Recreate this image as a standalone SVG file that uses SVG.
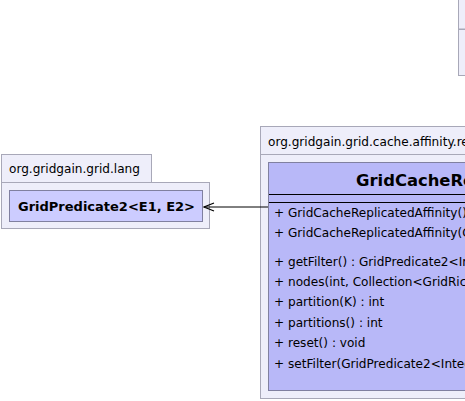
<svg xmlns="http://www.w3.org/2000/svg" width="465" height="401" viewBox="0 0 465 401">
<defs>
<style>
.pkg{fill:#eeeefa;stroke:#a8a8b8;stroke-width:1}
.cls{stroke:#8080a0;stroke-width:1}
.t{font-family:"DejaVu Sans",sans-serif;font-size:12.1px;fill:#000}
.b{font-family:"DejaVu Sans",sans-serif;font-weight:bold;fill:#000}
</style>
<marker id="open" markerWidth="12" markerHeight="10" refX="11" refY="5" orient="auto" markerUnits="userSpaceOnUse">
<path d="M1,1 L11,5 L1,9" fill="none" stroke="#000" stroke-width="1.2"/>
</marker>
</defs>
<rect width="465" height="401" fill="#fff"/>
<g id="topright">
<rect class="pkg" x="458.5" y="-1" width="10" height="30"/>
<rect class="pkg" x="458.5" y="29.5" width="10" height="46"/>
</g>
<g id="pkg-lang">
<rect class="pkg" x="1.5" y="154.5" width="150" height="28"/>
<rect class="pkg" x="1.5" y="182.5" width="208" height="46"/>
<text class="t" x="9" y="173" font-size="12.5">org.gridgain.grid.lang</text>
</g>
<g id="GridPredicate2">
<rect class="cls" x="9.5" y="190.5" width="193" height="31" fill="#ccccff"/>
<text class="b" x="18" y="211" font-size="13">GridPredicate2&lt;E1, E2&gt;</text>
</g>
<g id="pkg-affinity">
<rect class="pkg" x="260.5" y="126.5" width="220" height="28"/>
<rect class="pkg" x="260.5" y="154.5" width="220" height="244"/>
<text class="t" x="268" y="146" font-size="12.3">org.gridgain.grid.cache.affinity.replicated</text>
</g>
<g id="GridCacheReplicatedAffinity">
<rect class="cls" x="268.5" y="162.5" width="220" height="228" fill="#b8b8f8"/>
<text class="b" x="356" y="186" font-size="16.4">GridCacheReplicatedAffinity</text>
<line x1="269" y1="194.5" x2="470" y2="194.5" stroke="#000"/>
<line x1="269" y1="202.5" x2="470" y2="202.5" stroke="#000"/>
<text class="t" x="274" y="217">+ GridCacheReplicatedAffinity()</text>
<text class="t" x="274" y="237">+ GridCacheReplicatedAffinity(GridPredicate2&lt;Integer, GridRichNode&gt;)</text>
<text class="t" x="274" y="266">+ getFilter() : GridPredicate2&lt;Integer, GridRichNode&gt;</text>
<text class="t" x="274" y="286">+ nodes(int, Collection&lt;GridRichNode&gt;) : Collection&lt;GridRichNode&gt;</text>
<text class="t" x="274" y="306">+ partition(K) : int</text>
<text class="t" x="274" y="327">+ partitions() : int</text>
<text class="t" x="274" y="347">+ reset() : void</text>
<text class="t" x="274" y="368">+ setFilter(GridPredicate2&lt;Integer, GridRichNode&gt;) : void</text>
</g>
<g id="connectors">
<line x1="268" y1="207" x2="204" y2="207" stroke="#000" marker-end="url(#open)"/>
</g>
</svg>
